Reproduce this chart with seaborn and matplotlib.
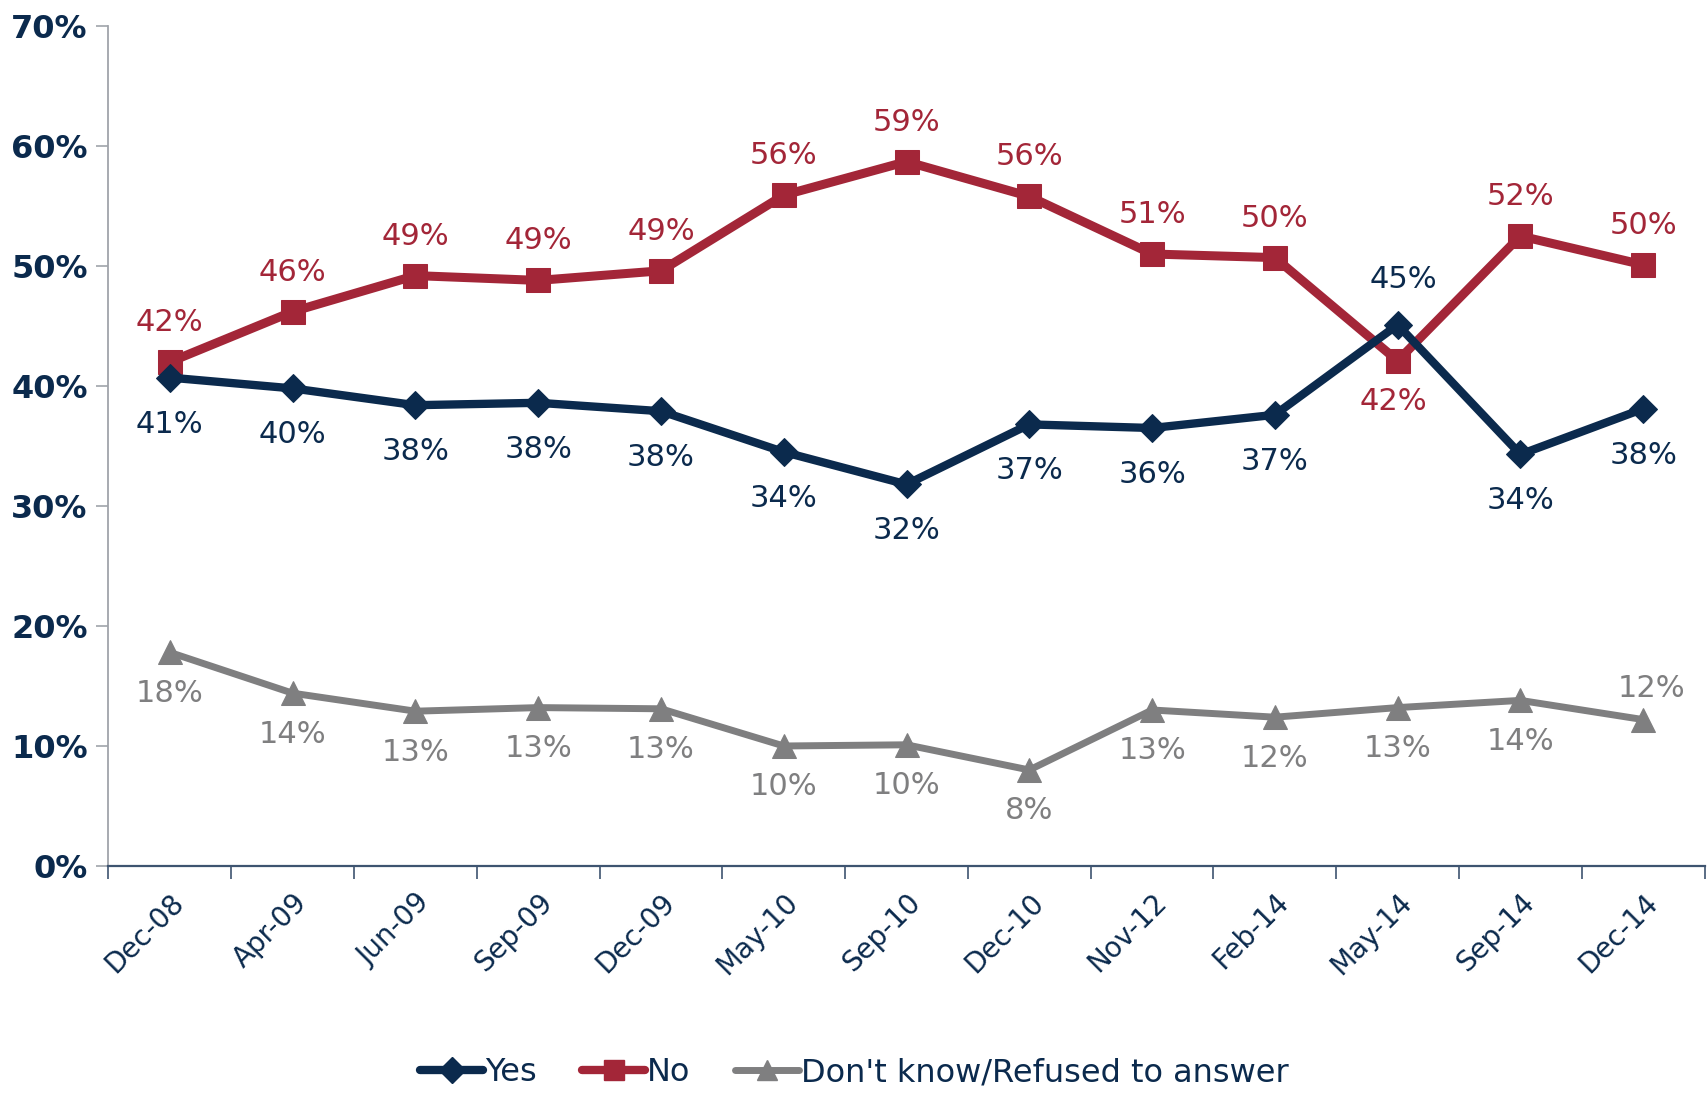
import matplotlib
matplotlib.use("Agg")
import matplotlib.pyplot as plt
import seaborn as sns
import pandas as pd
from matplotlib.ticker import FuncFormatter, FixedLocator
from matplotlib.lines import Line2D

dates = ["Dec-08", "Apr-09", "Jun-09", "Sep-09", "Dec-09", "May-10", "Sep-10",
         "Dec-10", "Nov-12", "Feb-14", "May-14", "Sep-14", "Dec-14"]
yes = [40.7, 39.8, 38.4, 38.6, 37.9, 34.5, 31.8, 36.8, 36.5, 37.6, 45.1, 34.3, 38.1]
no = [42.0, 46.2, 49.2, 48.8, 49.6, 55.9, 58.7, 55.8, 51.0, 50.7, 42.1, 52.5, 50.1]
dk = [17.8, 14.4, 12.9, 13.2, 13.1, 10.0, 10.1, 8.0, 13.0, 12.4, 13.2, 13.8, 12.2]
yes_lbl = ["41%", "40%", "38%", "38%", "38%", "34%", "32%", "37%", "36%", "37%", "45%", "34%", "38%"]
no_lbl = ["42%", "46%", "49%", "49%", "49%", "56%", "59%", "56%", "51%", "50%", "42%", "52%", "50%"]
dk_lbl = ["18%", "14%", "13%", "13%", "13%", "10%", "10%", "8%", "13%", "12%", "13%", "14%", "12%"]
series_names = ["Yes", "No", "Don't know/Refused to answer"]

NAVY = "#0B2A4D"
RED = "#A32638"
GRAY = "#7F7F80"

sns.set_style("white")
plt.rcParams["font.family"] = ["DejaVu Sans"]

fig = plt.figure(figsize=(17.08, 10.93), dpi=100)
ax = fig.add_axes([0.0635, 0.2077, 0.9345, 0.7685])

x = list(range(len(dates)))
df = pd.DataFrame({"x": x, "yes": yes, "no": no, "dk": dk})

sns.lineplot(data=df, x="x", y="yes", ax=ax, color=NAVY, lw=6, marker="D", ms=14,
             markeredgecolor=NAVY, zorder=4)
sns.lineplot(data=df, x="x", y="no", ax=ax, color=RED, lw=6.5, marker="s", ms=17,
             markeredgecolor=RED, zorder=3)
sns.lineplot(data=df, x="x", y="dk", ax=ax, color=GRAY, lw=5, marker="^", ms=17,
             markeredgecolor=GRAY, zorder=2)

fs = 22
for i in x:
    # Yes labels
    if dates[i] == "May-14":
        ax.annotate(yes_lbl[i], (i, yes[i]), xytext=(4, 22), textcoords="offset points",
                    ha="center", va="bottom", color=NAVY, fontsize=fs)
    else:
        ax.annotate(yes_lbl[i], (i, yes[i]), xytext=(0, -23), textcoords="offset points",
                    ha="center", va="top", color=NAVY, fontsize=fs)
    # No labels
    if dates[i] == "May-14":
        ax.annotate(no_lbl[i], (i, no[i]), xytext=(-3, -19), textcoords="offset points",
                    ha="center", va="top", color=RED, fontsize=fs)
    else:
        ax.annotate(no_lbl[i], (i, no[i]), xytext=(0, 18), textcoords="offset points",
                    ha="center", va="bottom", color=RED, fontsize=fs)
    # DK labels
    if dates[i] == "Dec-14":
        ax.annotate(dk_lbl[i], (i, dk[i]), xytext=(6, 12), textcoords="offset points",
                    ha="center", va="bottom", color=GRAY, fontsize=fs)
    else:
        ax.annotate(dk_lbl[i], (i, dk[i]), xytext=(0, -19), textcoords="offset points",
                    ha="center", va="top", color=GRAY, fontsize=fs)

ax.set_xlim(-0.5, len(dates) - 0.5)
ax.set_ylim(0, 70)
ax.set_yticks(range(0, 71, 10))
ax.yaxis.set_major_formatter(FuncFormatter(lambda v, p: f"{int(v)}%"))
ax.set_xticks(x)
ax.set_xticklabels(dates, rotation=45, ha="right", rotation_mode="anchor")
ax.xaxis.set_minor_locator(FixedLocator([i + 0.5 for i in range(-1, len(dates))]))
ax.set_xlabel("")
ax.set_ylabel("")

ax.tick_params(axis="x", which="major", length=0, pad=16, labelsize=20, labelcolor=NAVY)
ax.tick_params(axis="x", which="minor", length=9, width=1.2, color="#3E5470", bottom=True)
ax.tick_params(axis="y", which="major", length=9, width=1.2, color="#A0A4AA", left=True,
               labelsize=23, labelcolor=NAVY, pad=6)
for lab in ax.get_yticklabels():
    lab.set_fontweight("bold")

for s in ["top", "right"]:
    ax.spines[s].set_visible(False)
ax.spines["left"].set_color("#A0A4AA")
ax.spines["left"].set_linewidth(1.3)
ax.spines["bottom"].set_color("#3E5470")
ax.spines["bottom"].set_linewidth(1.6)
ax.grid(False)

handles = [
    Line2D([], [], color=NAVY, lw=6, marker="D", ms=13),
    Line2D([], [], color=RED, lw=6, marker="s", ms=14),
    Line2D([], [], color=GRAY, lw=5, marker="^", ms=15),
]
fig.legend(handles, series_names, loc="lower center", bbox_to_anchor=(0.5, -0.022),
           ncol=3, frameon=False, fontsize=23, handlelength=2.0, handletextpad=0.05,
           columnspacing=1.4, labelcolor=NAVY)

fig.savefig("out.png", dpi=100)
